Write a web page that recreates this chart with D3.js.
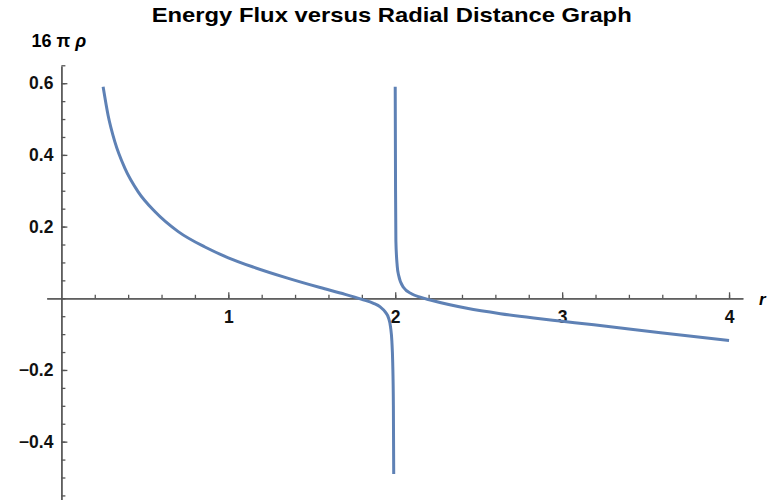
<!DOCTYPE html>
<html>
<head>
<meta charset="utf-8">
<script src="https://cdn.jsdelivr.net/npm/d3@7"></script>
<style>
  body { margin: 0; background: #fff; }
  svg { display: block; }
  .axis path, .axis line { stroke: #555; stroke-width: 1.3; }
  .axis text { font-family: "Liberation Sans", Arial, sans-serif; font-weight: bold; font-size: 17.5px; fill: #111; }
</style>
</head>
<body>
<div id="area"></div>
<script>
// values: r on x, 16πρ on y
// branch left of the pole at r = 2
var leftR = [0.25, 0.28, 0.32, 0.38, 0.46, 0.56, 0.70, 0.86, 1.00, 1.15, 1.35, 1.55, 1.70, 1.80, 1.87, 1.91, 1.94, 1.96, 1.972, 1.98, 1.985, 1.989, 1.991];
var leftV = [0.59, 0.51, 0.437, 0.363, 0.297, 0.242, 0.186, 0.143, 0.113, 0.087, 0.057, 0.030, 0.011, -0.003, -0.014, -0.024, -0.038, -0.055, -0.08, -0.12, -0.18, -0.30, -0.49];
// branch right of the pole
var rightR = [2.000, 2.002, 2.004, 2.012, 2.02, 2.05, 2.10, 2.15, 2.21, 2.43, 2.63, 2.83, 3.00, 3.19, 3.59, 4.00];
var rightV = [0.59, 0.30, 0.16, 0.09, 0.065, 0.030, 0.012, 0.003, -0.005, -0.028, -0.043, -0.055, -0.064, -0.074, -0.096, -0.118];

var xMajor = [1, 2, 3, 4];
var xMinor = d3.range(1, 21).map(function(i) { return +(i * 0.2).toFixed(1); });
var yMajor = [-0.4, -0.2, 0.2, 0.4, 0.6];
var yMinor = d3.range(-11, 14).map(function(i) { return +(i * 0.05).toFixed(2); });

var title = "Energy Flux versus Radial Distance Graph";

var width = 767, height = 500;

var svg = d3.select('#area').append('svg')
    .attr('width', width)
    .attr('height', height);

var x = d3.scaleLinear()
    .domain([-0.088, 4.083])
    .range([46.7, 742.9]);

var y = d3.scaleLinear()
    .domain([-0.565, 0.648])
    .range([500.8, 66]);

// minor ticks
svg.append('g')
    .attr('class', 'axis')
    .attr('transform', 'translate(0,' + y(0) + ')')
    .call(d3.axisBottom(x).tickValues(xMinor).tickSizeInner(-3.5).tickSizeOuter(0).tickFormat(''));

svg.append('g')
    .attr('class', 'axis')
    .attr('transform', 'translate(' + x(0) + ',0)')
    .call(d3.axisLeft(y).tickValues(yMinor).tickSizeInner(-4).tickSizeOuter(0).tickFormat(''));

// major ticks and labels
svg.append('g')
    .attr('class', 'axis xaxis')
    .attr('transform', 'translate(0,' + y(0) + ')')
    .call(d3.axisBottom(x).tickValues(xMajor).tickSizeInner(-6).tickSizeOuter(0).tickPadding(12).tickFormat(d3.format('d')));

svg.append('g')
    .attr('class', 'axis yaxis')
    .attr('transform', 'translate(' + x(0) + ',0)')
    .call(d3.axisLeft(y).tickValues(yMajor).tickSizeInner(-6).tickSizeOuter(0).tickPadding(8).tickFormat(d3.format('.1f')));

var line = d3.line()
    .x(function(d) { return x(d[0]); })
    .y(function(d) { return y(d[1]); })
    .curve(d3.curveMonotoneX);

[[leftR, leftV], [rightR, rightV]].forEach(function(b) {
  var pts = b[0].map(function(r, i) { return [r, b[1][i]]; });
  svg.append('path')
      .datum(pts)
      .attr('d', line)
      .attr('fill', 'none')
      .attr('stroke', '#5E81B5')
      .attr('stroke-width', 3)
      .attr('stroke-linecap', 'butt');
});

// title and axis labels
svg.append('text')
    .attr('x', 391.7)
    .attr('y', 22)
    .attr('text-anchor', 'middle')
    .attr('textLength', 480)
    .attr('lengthAdjust', 'spacingAndGlyphs')
    .style('font-family', '"Liberation Sans", Arial, sans-serif')
    .style('font-weight', 'bold')
    .style('font-size', '21px')
    .text(title);

var ylab = svg.append('text')
    .attr('x', 31.5)
    .attr('y', 47)
    .style('font-family', '"Liberation Sans", Arial, sans-serif')
    .style('font-weight', 'bold')
    .style('font-size', '18px');
ylab.append('tspan').text('16 ');
ylab.append('tspan').text('\u03c0 ');
ylab.append('tspan').style('font-style', 'italic').text('\u03c1');

svg.append('text')
    .attr('x', 759)
    .attr('y', 305)
    .style('font-family', '"Liberation Sans", Arial, sans-serif')
    .style('font-weight', 'bold')
    .style('font-style', 'italic')
    .style('font-size', '17px')
    .text('r');
</script>
</body>
</html>
